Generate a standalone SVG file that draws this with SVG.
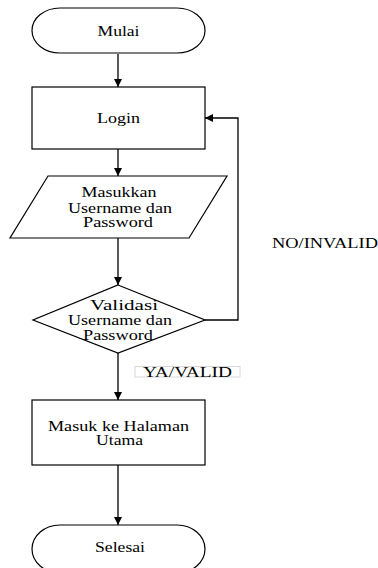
<svg xmlns="http://www.w3.org/2000/svg" width="378" height="568" viewBox="0 0 378 568">
<defs>
<style>
.s{fill:#fff;stroke:#000;stroke-width:1.2}
.t{font-size:14px;fill:#000;text-anchor:middle}
.c{fill:none;stroke:#000;stroke-width:1.3}
</style>
<marker id="ah" viewBox="0 0 10 10" refX="10" refY="5" markerWidth="8" markerHeight="8" markerUnits="userSpaceOnUse" orient="auto">
<path d="M0,0 L10,5 L0,10 z" fill="#000"/>
</marker>
</defs>
<rect width="378" height="568" fill="#fff"/>
<g id="connectors">
<line class="c" x1="118" y1="54" x2="118" y2="87" marker-end="url(#ah)"/>
<line class="c" x1="118" y1="149" x2="118" y2="176" marker-end="url(#ah)"/>
<line class="c" x1="118" y1="238" x2="118" y2="285" marker-end="url(#ah)"/>
<line class="c" x1="118" y1="353" x2="118" y2="400" marker-end="url(#ah)"/>
<line class="c" x1="118" y1="465" x2="118" y2="525" marker-end="url(#ah)"/>
<polyline class="c" points="205,320 238,320 238,118 205,118" marker-end="url(#ah)"/>
</g>
<g font-family="'Liberation Serif', 'Times New Roman', 'DejaVu Serif', serif">
<g id="mulai">
<rect class="s" x="32" y="8" width="173" height="45" rx="28" ry="22.5"/>
<text class="t" x="118.5" y="35.5" textLength="42" lengthAdjust="spacingAndGlyphs">Mulai</text>
</g>
<g id="login">
<rect class="s" x="32" y="87" width="173" height="62"/>
<text class="t" x="118.5" y="123" textLength="43" lengthAdjust="spacingAndGlyphs">Login</text>
</g>
<g id="input">
<polygon class="s" points="48,176 227,176 189,238 10,238"/>
<text class="t" x="119" y="196.5" textLength="75" lengthAdjust="spacingAndGlyphs">Masukkan</text>
<text class="t" x="120" y="212.5" textLength="104" lengthAdjust="spacingAndGlyphs">Username dan</text>
<text class="t" x="118" y="227" textLength="70" lengthAdjust="spacingAndGlyphs">Password</text>
</g>
<g id="validasi">
<polygon class="s" points="118,285 205,320 118,353 33,320"/>
<text class="t" x="124" y="310" textLength="68" lengthAdjust="spacingAndGlyphs">Validasi</text>
<text class="t" x="120" y="325" textLength="104" lengthAdjust="spacingAndGlyphs">Username dan</text>
<text class="t" x="118" y="340" textLength="70" lengthAdjust="spacingAndGlyphs">Password</text>
</g>
<g id="label-no">
<text class="t" x="325" y="248" textLength="106" lengthAdjust="spacingAndGlyphs">NO/INVALID</text>
</g>
<g id="label-ya">
<rect x="135" y="366.5" width="105" height="10.5" fill="#fff" stroke="#d8d8d8" stroke-width="1"/>
<text class="t" x="187.5" y="376.5" textLength="89" lengthAdjust="spacingAndGlyphs">YA/VALID</text>
</g>
<g id="utama">
<rect class="s" x="32" y="400" width="173" height="65"/>
<text class="t" x="118.5" y="430.5" textLength="141" lengthAdjust="spacingAndGlyphs">Masuk ke Halaman</text>
<text class="t" x="119.5" y="445" textLength="47" lengthAdjust="spacingAndGlyphs">Utama</text>
</g>
<g id="selesai">
<rect class="s" x="32" y="525" width="173" height="48" rx="28" ry="24"/>
<text class="t" x="120" y="551.5" textLength="50" lengthAdjust="spacingAndGlyphs">Selesai</text>
</g>
</g>
</svg>
